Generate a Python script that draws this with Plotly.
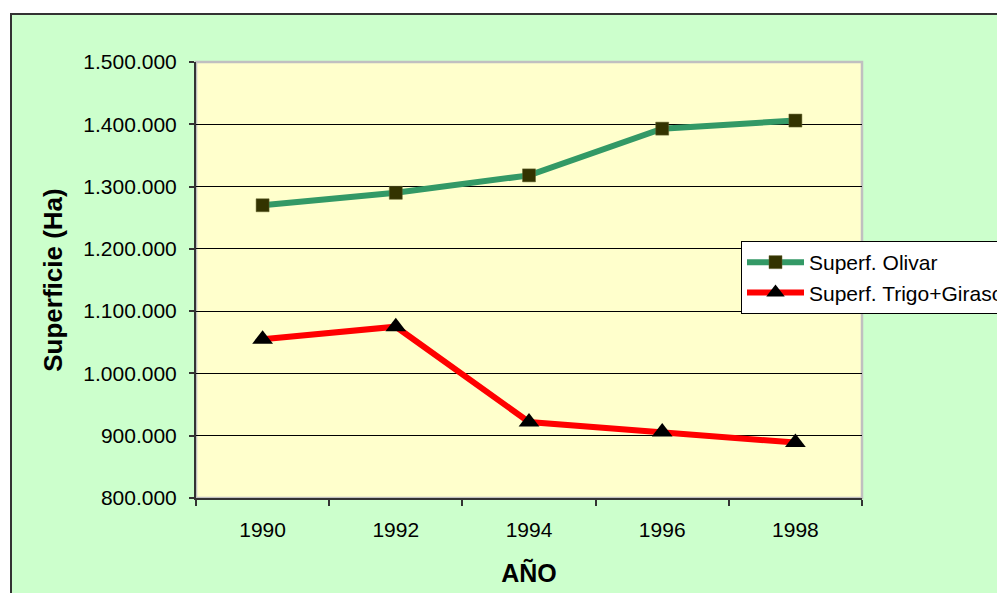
import plotly.graph_objects as go

years = ["1990", "1992", "1994", "1996", "1998"]
olivar = [1270000, 1290000, 1318000, 1393000, 1406000]
trigo_girasol = [1055000, 1075000, 922000, 906000, 889000]
y_ticks = [800000, 900000, 1000000, 1100000, 1200000, 1300000, 1400000, 1500000]

# page body margin offset (the html page adds 8px)
OFF = 8
W, H = 1005 - OFF, 593 - OFF
L, R, T, B = 196 - OFF, 862 - OFF, 62 - OFF, 498 - OFF

def px_x(p):
    return (p - OFF - L) / (R - L)

def px_y(p):
    return (B - (p - OFF)) / (B - T)

fig = go.Figure()
fig.add_trace(go.Scatter(
    x=years, y=olivar, name="Superf. Olivar", mode="lines+markers",
    line=dict(color="#339966", width=6),
    marker=dict(symbol="square", size=13, color="#333300",
                line=dict(color="#666633", width=0.5)),
))
fig.add_trace(go.Scatter(
    x=years, y=trigo_girasol, name="Superf. Trigo+Girasol", mode="lines+markers",
    line=dict(color="#FF0000", width=6),
    marker=dict(symbol="triangle-up", size=18, color="#000000"),
))

font_family = "Arial, Liberation Sans, sans-serif"

fig.update_layout(
    width=W, height=H,
    margin=dict(l=L, r=W - R, t=T, b=H - B, autoexpand=False),
    paper_bgcolor="#FFFFFF",
    plot_bgcolor="rgba(0,0,0,0)",
    separators=",.",
    font=dict(family=font_family, size=21, color="#000000"),
    showlegend=True,
    legend=dict(
        x=px_x(741), y=px_y(241), xanchor="left", yanchor="top",
        bgcolor="#FFFFFF", bordercolor="#000000", borderwidth=1,
        font=dict(family=font_family, size=21, color="#000000"),
        itemwidth=57, tracegroupgap=0,
    ),
    shapes=[
        dict(type="rect", xref="paper", yref="paper",
             x0=px_x(11), x1=px_x(1100), y0=px_y(700), y1=px_y(14),
             fillcolor="#CCFFCC", line=dict(color="#333333", width=2), layer="below"),
        dict(type="rect", xref="paper", yref="paper",
             x0=0, x1=1, y0=0, y1=1,
             fillcolor="#FFFFCC", line=dict(color="#C0C0C0", width=2.5), layer="below"),
    ],
)

fig.update_xaxes(
    type="category", range=[-0.5, 4.5],
    tickson="boundaries", ticks="outside", ticklen=6, tickwidth=1.5, tickcolor="#333333",
    showline=True, linecolor="#333333", linewidth=2,
    showgrid=False, zeroline=False,
    tickfont=dict(family=font_family, size=21),
    ticklabelstandoff=12,
    title=dict(text="<b>AÑO</b>", font=dict(family=font_family, size=25), standoff=24),
)
fig.update_yaxes(
    range=[800000, 1500000], tickvals=y_ticks, tickformat=",.0f",
    ticks="outside", ticklen=5, tickwidth=1.5, tickcolor="#333333",
    showline=True, linecolor="#333333", linewidth=2,
    showgrid=True, gridcolor="#000000", gridwidth=1, zeroline=False,
    tickfont=dict(family=font_family, size=21),
    ticklabelstandoff=8,
    title=dict(text="<b>Superficie (Ha)</b>", font=dict(family=font_family, size=26), standoff=13),
)

fig.write_html("out.html")
